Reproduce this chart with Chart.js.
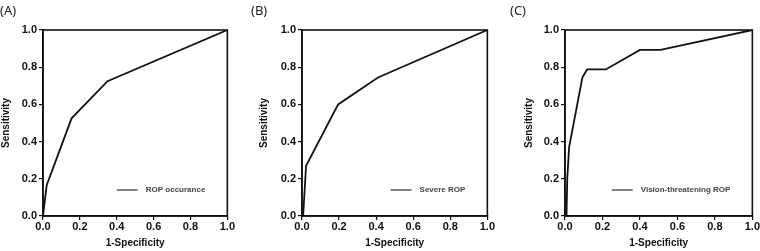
<!DOCTYPE html>
<html>
<head>
<meta charset="utf-8">
<script src="https://cdn.jsdelivr.net/npm/chart.js@4.4.0/dist/chart.umd.min.js"></script>
<style>
  body { margin: 0; background: #fff; width: 760px; height: 251px; position: relative; overflow: hidden; }
  .panel { position: absolute; top: 0; height: 251px; }
  .tag { position: absolute; top: 1px; font-family: "Noto Sans", sans-serif; font-size: 13px; color: #222; }
</style>
</head>
<body>
<div class="panel" style="left:0;width:235px"><canvas id="rocA" width="235" height="251"></canvas></div>
<div class="panel" style="left:255px;width:240px"><canvas id="rocB" width="240" height="251"></canvas></div>
<div class="panel" style="left:510px;width:250px"><canvas id="rocC" width="250" height="251"></canvas></div>
<div class="tag" style="left:0">(A)</div>
<div class="tag" style="left:251px">(B)</div>
<div class="tag" style="left:510px">(C)</div>
<script>
// ROP occurance
var fprA = [0, 0.005, 0.02, 0.155, 0.35, 1.0];
var tprA = [0, 0.0, 0.165, 0.525, 0.725, 1.0];
// Severe ROP
var fprB = [0, 0.006, 0.022, 0.195, 0.41, 1.0];
var tprB = [0, 0.0, 0.27, 0.6, 0.745, 1.0];
// Vision-threatening ROP
var fprC = [0, 0.008, 0.012, 0.022, 0.093, 0.118, 0.218, 0.4, 0.51, 1.0];
var tprC = [0, 0.0, 0.2, 0.37, 0.745, 0.788, 0.788, 0.893, 0.893, 1.0];

var tickVals = [0.0, 0.2, 0.4, 0.6, 0.8, 1.0];

//draw the frame and the little legend inside the plot
var boxLegend = {
    id: 'boxLegend',
    afterDraw: function(chart){
        var ctx = chart.ctx;
        var a = chart.chartArea;
        ctx.save();
        ctx.strokeStyle = '#111';
        ctx.lineWidth = 1.6;
        ctx.strokeRect(a.left, a.top, a.right - a.left, a.bottom - a.top);
        var label = chart.data.datasets[0].label;
        ctx.font = 'bold 8px "Liberation Sans", Arial, sans-serif';
        var w = ctx.measureText(label).width;
        var tx = a.right - 22 - w;
        var ty = a.bottom - 26;
        ctx.fillStyle = '#444';
        ctx.textBaseline = 'middle';
        ctx.fillText(label, tx, ty);
        ctx.strokeStyle = '#666';
        ctx.lineWidth = 1.6;
        ctx.beginPath();
        ctx.moveTo(tx - 29, ty);
        ctx.lineTo(tx - 8, ty);
        ctx.stroke();
        ctx.restore();
    }
};

function makeRoc(id, fpr, tpr, name, yWidth, yTitlePad){
    var pts = [];
    for(var i = 0; i < fpr.length; i++){
        pts.push({x: fpr[i], y: tpr[i]});
    }
    var tickFont = {family: '"Liberation Sans", Arial, sans-serif', size: 11, weight: 'bold'};
    var titleFont = {family: '"Liberation Sans", Arial, sans-serif', size: 10, weight: 'bold'};
    return new Chart(document.getElementById(id), {
        type: 'scatter',
        data: {
            datasets: [{
                label: name,
                data: pts,
                showLine: true,
                borderColor: '#111',
                borderWidth: 1.8,
                pointRadius: 0,
                tension: 0
            }]
        },
        options: {
            responsive: false,
            animation: false,
            layout: {padding: {top: 30, right: 6, left: 0, bottom: 0}},
            plugins: {legend: {display: false}, tooltip: {enabled: false}},
            scales: {
                x: {
                    type: 'linear', min: 0, max: 1,
                    afterBuildTicks: function(s){ s.ticks = tickVals.map(function(v){ return {value: v}; }); },
                    afterFit: function(s){ s.height = 35; },
                    ticks: {color: '#111', font: tickFont, padding: 0, maxRotation: 0,
                        callback: function(v){ return v.toFixed(1); }},
                    grid: {drawOnChartArea: false, tickLength: 4, color: '#111', lineWidth: 1.2},
                    border: {display: true, color: '#111', width: 1.6},
                    title: {display: true, text: '1-Specificity', color: '#111', font: titleFont,
                        padding: {top: 0, bottom: 2}}
                },
                y: {
                    type: 'linear', min: 0, max: 1,
                    afterBuildTicks: function(s){ s.ticks = tickVals.map(function(v){ return {value: v}; }); },
                    afterFit: function(s){ s.width = yWidth; },
                    ticks: {color: '#111', font: tickFont, padding: 2,
                        callback: function(v){ return v.toFixed(1); }},
                    grid: {drawOnChartArea: false, tickLength: 4, color: '#111', lineWidth: 1.2},
                    border: {display: true, color: '#111', width: 1.6},
                    title: {display: true, text: 'Sensitivity', color: '#111', font: titleFont,
                        padding: {top: yTitlePad, bottom: 0}}
                }
            }
        },
        plugins: [boxLegend]
    });
}

makeRoc('rocA', fprA, tprA, 'ROP occurance', 43, 0);
makeRoc('rocB', fprB, tprB, 'Severe ROP', 47, 3);
makeRoc('rocC', fprC, tprC, 'Vision-threatening ROP', 55, 13);
</script>
</body>
</html>
